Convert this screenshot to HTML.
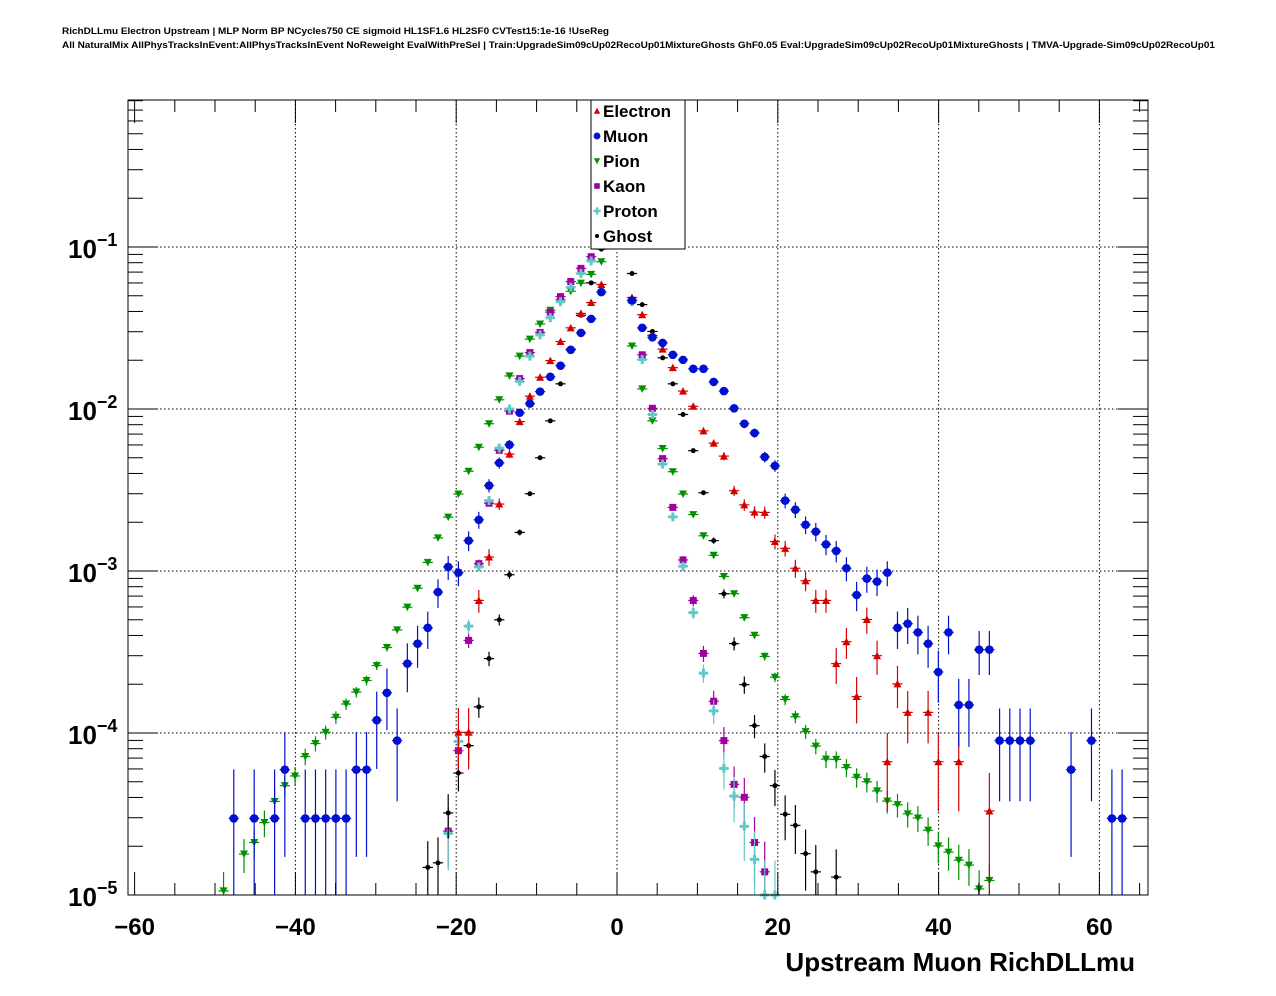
<!DOCTYPE html>
<html><head><meta charset="utf-8"><style>
html,body{margin:0;padding:0;background:#fff;width:1276px;height:996px;overflow:hidden}
svg{position:absolute;left:0;top:0}
text{font-family:"Liberation Sans",Arial,sans-serif;font-weight:bold}
</style></head><body>
<svg id="chart" width="1276" height="996" viewBox="0 0 1276 996" xmlns="http://www.w3.org/2000/svg">
<text x="62" y="34" font-size="9" textLength="547" lengthAdjust="spacingAndGlyphs">RichDLLmu Electron Upstream | MLP Norm BP NCycles750 CE sigmoid HL1SF1.6 HL2SF0 CVTest15:1e-16 !UseReg</text>
<text x="62" y="48" font-size="9" textLength="1153" lengthAdjust="spacingAndGlyphs">All NaturalMix AllPhysTracksInEvent:AllPhysTracksInEvent NoReweight EvalWithPreSel | Train:UpgradeSim09cUp02RecoUp01MixtureGhosts GhF0.05 Eval:UpgradeSim09cUp02RecoUp01MixtureGhosts | TMVA-Upgrade-Sim09cUp02RecoUp01</text>
<g id="grid"></g>
<g id="marks"></g>
<rect x="128" y="100" width="1020" height="795" fill="none" stroke="#000" stroke-width="1"/>
<g id="axes"></g>
<text x="1135" y="971" font-size="26" text-anchor="end">Upstream Muon RichDLLmu</text>
<g id="legend"></g>
</svg>
<script>
// ---- data ----
const binMin = -61, binWidth = 1.27;
const xTicks = [-60,-40,-20,0,20,40,60];
const yDecades = [-1,-2,-3,-4,-5];
const seriesNames = ["Electron","Muon","Pion","Kaon","Proton","Ghost"];

const electronBins = [32,33,34,35,36,37,38,39,40,41,42,43,44,45,46,49,50,51,52,53,54,55,56,57,58,59,60,61,62,63,64,65,66,67,68,69,70,71,72,73,74,75,76,78,79,81,84];
const electronVals = [1.01e-4,1.01e-4,6.58e-4,1.22e-3,2.59e-3,5.27e-3,8.36e-3,0.012,0.0157,0.0199,0.0261,0.0317,0.0389,0.0454,0.0587,0.0488,0.0382,0.0285,0.0234,0.018,0.0129,0.0104,7.33e-3,6.16e-3,5.12e-3,3.13e-3,2.56e-3,2.31e-3,2.30e-3,1.52e-3,1.38e-3,1.04e-3,8.71e-4,6.58e-4,6.58e-4,2.68e-4,3.66e-4,1.68e-4,5.02e-4,3.0e-4,6.65e-5,2.01e-4,1.34e-4,1.34e-4,6.65e-5,6.65e-5,3.30e-5];

const muonBins = [10,12,14,15,17,18,19,20,21,22,23,24,25,26,27,28,29,30,31,32,33,34,35,36,37,38,39,40,41,42,43,44,45,46,49,50,51,52,53,54,55,56,57,58,59,60,61,62,63,64,65,66,67,68,69,70,71,72,73,74,75,76,77,78,79,80,81,82,83,84,85,86,87,88,92,94,96,97];
const muonVals = [2.97e-5,2.97e-5,2.97e-5,5.94e-5,2.97e-5,2.97e-5,2.97e-5,2.97e-5,2.97e-5,5.94e-5,5.94e-5,1.20e-4,1.77e-4,8.98e-5,2.68e-4,3.56e-4,4.46e-4,7.41e-4,1.06e-3,9.77e-4,1.54e-3,2.07e-3,3.37e-3,4.65e-3,6.01e-3,9.48e-3,0.0108,0.0128,0.0158,0.0185,0.0232,0.0295,0.036,0.0527,0.0468,0.0317,0.0277,0.0256,0.0216,0.0201,0.0177,0.0177,0.0147,0.0129,0.0101,8.11e-3,7.11e-3,5.06e-3,4.46e-3,2.72e-3,2.39e-3,1.93e-3,1.75e-3,1.46e-3,1.33e-3,1.04e-3,7.11e-4,8.98e-4,8.61e-4,9.77e-4,4.46e-4,4.73e-4,4.18e-4,3.56e-4,2.38e-4,4.18e-4,1.49e-4,1.49e-4,3.27e-4,3.27e-4,8.98e-5,8.98e-5,8.98e-5,8.98e-5,5.94e-5,8.98e-5,2.97e-5,2.97e-5];

const pionBins = [9,11,12,13,14,15,16,17,18,19,20,21,22,23,24,25,26,27,28,29,30,31,32,33,34,35,36,37,38,39,40,41,42,43,44,45,46,49,50,51,52,53,54,55,56,57,58,59,60,61,62,63,64,65,66,67,68,69,70,71,72,73,74,75,76,77,78,79,80,81,82,83,84];
const pionVals = [1.06e-5,1.79e-5,2.11e-5,2.80e-5,3.78e-5,4.73e-5,5.43e-5,7.16e-5,8.61e-5,1.01e-4,1.25e-4,1.51e-4,1.79e-4,2.11e-4,2.61e-4,3.37e-4,4.33e-4,5.98e-4,7.83e-4,1.13e-3,1.60e-3,2.15e-3,2.99e-3,4.13e-3,5.81e-3,8.11e-3,0.0114,0.016,0.0212,0.027,0.0335,0.0407,0.0473,0.0533,0.0598,0.0678,0.0811,0.0245,0.0133,8.45e-3,5.70e-3,4.10e-3,2.99e-3,2.23e-3,1.65e-3,1.25e-3,9.25e-4,7.24e-4,5.15e-4,4.01e-4,2.97e-4,2.21e-4,1.61e-4,1.26e-4,1.02e-4,8.30e-5,6.90e-5,6.87e-5,6.12e-5,5.33e-5,5.00e-5,4.39e-5,3.80e-5,3.61e-5,3.17e-5,2.99e-5,2.51e-5,2.01e-5,1.84e-5,1.64e-5,1.53e-5,1.09e-5,1.23e-5];

const kaonBins = [31,32,33,34,35,36,37,38,39,40,41,42,43,44,45,49,50,51,52,53,54,55,56,57,58,59,60,61,62];
const kaonVals = [2.48e-5,7.78e-5,3.73e-4,1.11e-3,2.62e-3,5.56e-3,9.70e-3,0.0154,0.0223,0.0297,0.0396,0.0494,0.0612,0.0738,0.0871,0.0468,0.0216,0.0101,4.94e-3,2.47e-3,1.17e-3,6.58e-4,3.10e-4,1.57e-4,8.98e-5,4.82e-5,4.01e-5,2.11e-5,1.39e-5];

const protonBins = [31,32,33,34,35,36,37,38,39,40,41,42,43,44,45,49,50,51,52,53,54,55,56,57,58,59,60,61,62,63];
const protonVals = [2.4e-5,8.87e-5,4.57e-4,1.06e-3,2.72e-3,5.73e-3,0.01,0.0148,0.0212,0.0287,0.0366,0.0459,0.0564,0.0686,0.082,0.0459,0.0202,9.25e-3,4.57e-3,2.16e-3,1.07e-3,5.53e-4,2.34e-4,1.37e-4,6.05e-5,4.08e-5,2.65e-5,1.66e-5,1.0e-5,1.0e-5];

const ghostBins = [29,30,31,32,33,34,35,36,37,38,39,40,41,42,43,44,45,46,49,50,51,52,53,54,55,56,57,58,59,60,61,62,63,64,65,66,67,69];
const ghostVals = [1.48e-5,1.58e-5,3.21e-5,5.66e-5,8.36e-5,1.45e-4,2.88e-4,5.0e-4,9.48e-4,1.73e-3,3.0e-3,5.0e-3,8.45e-3,0.0143,0.0234,0.0379,0.0601,0.097,0.0686,0.0441,0.0301,0.0207,0.0143,9.25e-3,5.53e-3,3.04e-3,1.54e-3,7.24e-4,3.56e-4,1.99e-4,1.11e-4,7.16e-5,4.73e-5,3.15e-5,2.69e-5,1.80e-5,1.39e-5,1.29e-5];

// ---- scales ----
const X0 = 617, PXU = 8.04;
const L = 128, R = 1148, T = 100, B = 895;
function xs(v){ return X0 + v*PXU; }
function ys(v){ return 247 - 162*(Math.log10(v)+1); }
const NS = "http://www.w3.org/2000/svg";
function mk(tag, attrs, parent){
  const e = document.createElementNS(NS, tag);
  for (const k in attrs) e.setAttribute(k, attrs[k]);
  parent.appendChild(e); return e;
}
const grid = document.getElementById('grid');
const axes = document.getElementById('axes');
const marks = document.getElementById('marks');
const legend = document.getElementById('legend');

xTicks.forEach(t=>{
  if (t===-60) return;
  const l = mk('line',{x1:xs(t),x2:xs(t),y1:T,y2:B,stroke:'#000','stroke-width':1,'stroke-dasharray':'1.5,2.5'},grid);
  
  
});
yDecades.forEach(d=>{
  if (d===-5) return;
  const y = ys(Math.pow(10,d));
  const l = mk('line',{x1:L,x2:R,y1:y,y2:y,stroke:'#000','stroke-width':1,'stroke-dasharray':'1.5,2.5'},grid);
  
  
});

for (let v=-60; v<=65; v+=5){
  const major = (v%20===0);
  const len = major?23:12;
  const x = xs(v);
  mk('line',{x1:x,x2:x,y1:B,y2:B-len,stroke:'#000'},axes);
  mk('line',{x1:x,x2:x,y1:T,y2:T+len,stroke:'#000'},axes);
}
xTicks.forEach(t=>{
  const tx = mk('text',{x:xs(t),y:935,'font-size':24,'text-anchor':'middle'},axes);
  tx.textContent = t<0 ? '\u2212'+Math.abs(t) : String(t);
  
  
});
for (let d=-5; d<=-1; d++){
  for (let m=1; m<=9; m++){
    const v = m*Math.pow(10,d);
    const y = ys(v);
    if (y < T) continue;
    const len = m===1?30:15;
    mk('line',{x1:L,x2:L+len,y1:y,y2:y,stroke:'#000'},axes);
    mk('line',{x1:R,x2:R-len,y1:y,y2:y,stroke:'#000'},axes);
  }
}
yDecades.forEach(d=>{
  const y = ys(Math.pow(10,d));
  const tx = mk('text',{x:68,y:y+11,'font-size':26},axes);
  
  
  tx.textContent = '10';
  const sp = mk('tspan',{dy:-12,'font-size':18},tx);
  sp.textContent = '\u2212'+Math.abs(d);
});

const styles = {
  Electron:{color:'#d40000',shape:'tri',unit:1.7e-5},
  Muon:{color:'#0010d0',shape:'circle',unit:3e-5},
  Pion:{color:'#009000',shape:'tridown',unit:1e-6},
  Kaon:{color:'#a000a0',shape:'square',unit:4e-6},
  Proton:{color:'#60c8c8',shape:'cross',unit:4e-6},
  Ghost:{color:'#000',shape:'dot',unit:3e-6}
};
function marker(shape,x,y,c,parent,s){
  s = s||1;
  if (shape==='tri') return mk('path',{d:`M${x-4*s},${y+3.5*s}L${x+4*s},${y+3.5*s}L${x},${y-4*s}Z`,fill:c},parent);
  if (shape==='tridown') return mk('path',{d:`M${x-4*s},${y-3.5*s}L${x+4*s},${y-3.5*s}L${x},${y+4*s}Z`,fill:c},parent);
  if (shape==='circle') return mk('circle',{cx:x,cy:y,r:4.3*s,fill:c},parent);
  if (shape==='square') return mk('rect',{x:x-3.5*s,y:y-3.5*s,width:7*s,height:7*s,fill:c},parent);
  if (shape==='cross') return mk('path',{d:`M${x-4.5*s},${y-1.5*s}h${3*s}v${-3*s}h${3*s}v${3*s}h${3*s}v${3*s}h${-3*s}v${3*s}h${-3*s}v${-3*s}h${-3*s}Z`,fill:c},parent);
  return mk('circle',{cx:x,cy:y,r:2.5*s,fill:c},parent);
}
const seriesData = [
  ['Electron',electronBins,electronVals],
  ['Muon',muonBins,muonVals],
  ['Pion',pionBins,pionVals],
  ['Kaon',kaonBins,kaonVals],
  ['Proton',protonBins,protonVals],
  ['Ghost',ghostBins,ghostVals]
];
const drawOrder = [2,3,4,5,0,1];
drawOrder.forEach(si=>{
  const [name,bins,vals] = seriesData[si];
  const st = styles[name];
  const g = mk('g',{},marks);
  
  
  bins.forEach((k,i)=>{
    const v = vals[i];
    const xc = binMin + binWidth*(k+0.5);
    const x = xs(xc);
    const y = ys(v);
    if (y > B+3 || y < T) return;
    const rel = Math.sqrt(st.unit / v);
    const yHi = Math.max(T, ys(v*(1+rel)));
    const yLo = rel>=1 ? B : Math.min(B, ys(v*(1-rel)));
    const hx = binWidth*PXU/2;
    mk('line',{x1:x-hx,x2:x+hx,y1:y,y2:y,stroke:st.color,'stroke-width':1.2},g);
    mk('line',{x1:x,x2:x,y1:yHi,y2:yLo,stroke:st.color,'stroke-width':1.2},g);
    const m = marker(st.shape,x,y,st.color,g);
    
    
  });
});

const lb = mk('rect',{x:591,y:100,width:94,height:149,fill:'#fff',stroke:'#000','stroke-width':1},legend);


seriesNames.forEach((n,i)=>{
  const y = 111 + i*25;
  const st = styles[n];
  const g = mk('g',{},legend);
  
  
  marker(st.shape,597,y,st.color,g,0.8);
  const t = mk('text',{x:603,y:y+6,'font-size':17},g);
  t.textContent = n;
});
</script>
</body></html>
